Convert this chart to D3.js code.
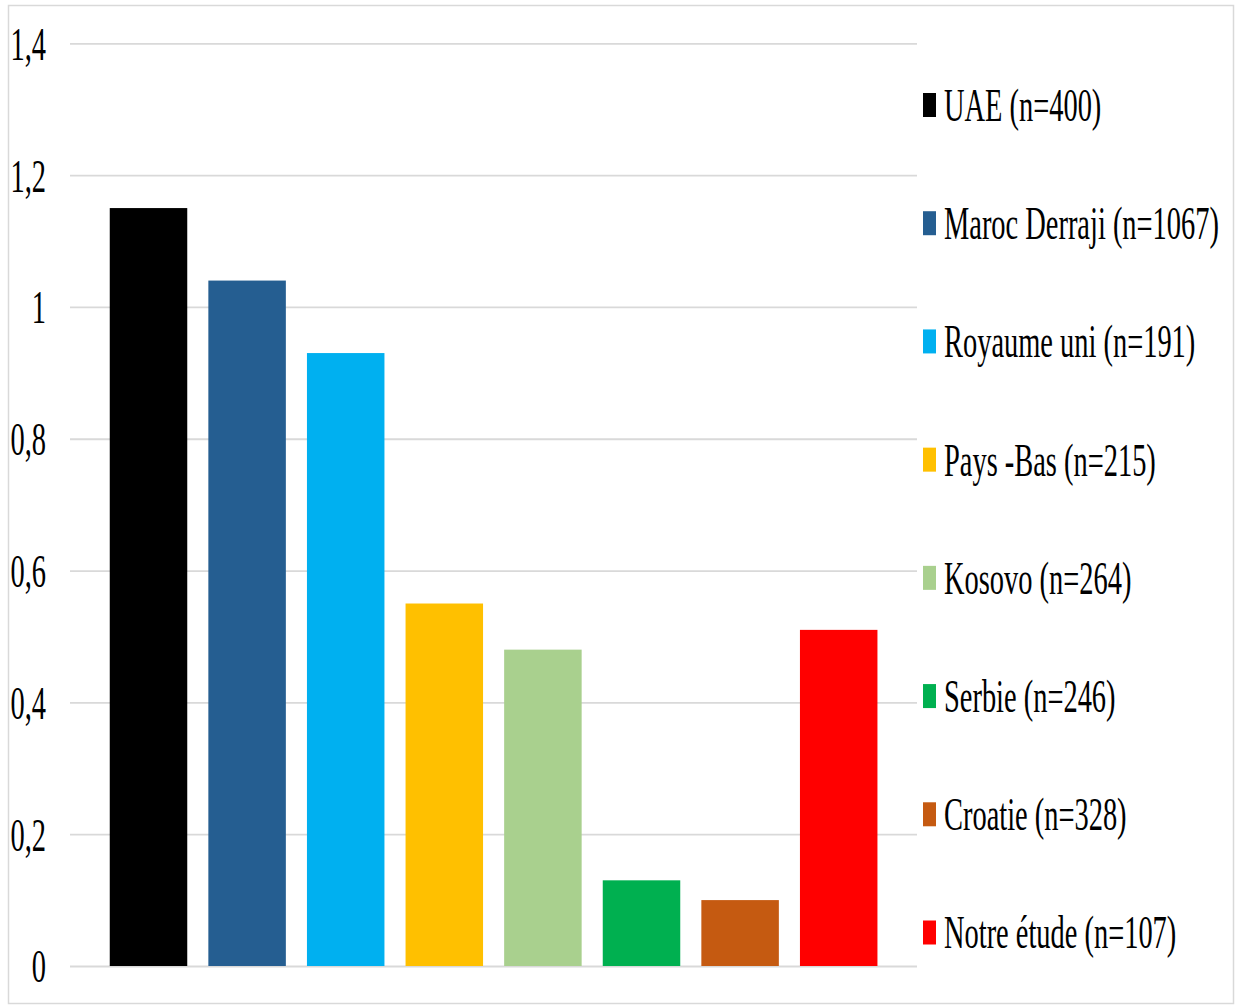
<!DOCTYPE html>
<html>
<head>
<meta charset="utf-8">
<script src="https://cdn.jsdelivr.net/npm/d3@7"></script>
<style>
  html, body { margin: 0; padding: 0; background: #fff; }
  svg { display: block; }
  text { font-family: "Liberation Serif", "Times New Roman", serif; fill: #000; }
</style>
</head>
<body>
<svg id="chart" width="1236" height="1006"></svg>
<script>
// Study groups, their values and bar colours
const categories = [
  "UAE (n=400)",
  "Maroc Derraji (n=1067)",
  "Royaume uni (n=191)",
  "Pays -Bas (n=215)",
  "Kosovo (n=264)",
  "Serbie (n=246)",
  "Croatie (n=328)",
  "Notre étude (n=107)"
];
const values = [1.15, 1.04, 0.93, 0.55, 0.48, 0.13, 0.10, 0.51];
const colors = ["#000000", "#255e91", "#00b0f0", "#ffc000", "#a9d08e", "#00b050", "#c55a11", "#ff0000"];
const tickValues = [0, 0.2, 0.4, 0.6, 0.8, 1, 1.2, 1.4];
const tickLabels = ["0", "0,2", "0,4", "0,6", "0,8", "1", "1,2", "1,4"];

const svg = d3.select("#chart");
const FONT = 47, SX = 0.605;

// outer frame
svg.append("rect")
  .attr("x", 8.5).attr("y", 5.5).attr("width", 1225).attr("height", 998)
  .attr("fill", "none").attr("stroke", "#d9d9d9").attr("stroke-width", 1.5);

const gridLeft = 70, gridRight = 917;
const y = d3.scaleLinear().domain([0, 1.4]).range([966, 43.3]);
const x = d3.scaleBand().domain(categories)
  .range([99.2, 888]).paddingInner(0.214).paddingOuter(0.107);

// value axis with horizontal gridlines
const yAxis = d3.axisLeft(y)
  .tickValues(tickValues)
  .tickSize(-(gridRight - gridLeft))
  .tickFormat((d, i) => tickLabels[i]);

const gy = svg.append("g")
  .attr("transform", `translate(${gridLeft},0)`)
  .call(yAxis);
gy.select(".domain").remove();
gy.selectAll(".tick line").attr("stroke", "#d9d9d9").attr("stroke-width", 1.8);
gy.selectAll(".tick text")
  .attr("x", 0).attr("dy", "0.34em")
  .attr("text-anchor", "end")
  .attr("font-size", FONT)
  .attr("transform", `translate(-24,0) scale(${SX},1)`);

// bars
svg.append("g").selectAll("rect")
  .data(categories)
  .join("rect")
  .attr("x", d => x(d))
  .attr("width", x.bandwidth())
  .attr("y", (d, i) => y(values[i]))
  .attr("height", (d, i) => y(0) - y(values[i]))
  .attr("fill", (d, i) => colors[i]);

// legend
const legendY = d3.scalePoint().domain(categories).range([105, 932.5]);
const lg = svg.append("g").selectAll("g")
  .data(categories)
  .join("g")
  .attr("transform", d => `translate(923,${legendY(d)})`);
lg.append("rect")
  .attr("x", 0).attr("y", -12).attr("width", 13).attr("height", 24)
  .attr("fill", (d, i) => colors[i]);
lg.append("text")
  .attr("x", 0).attr("dy", "0.34em")
  .attr("font-size", FONT)
  .attr("transform", `translate(21,0) scale(${SX},1)`)
  .text(d => d);
</script>
</body>
</html>
